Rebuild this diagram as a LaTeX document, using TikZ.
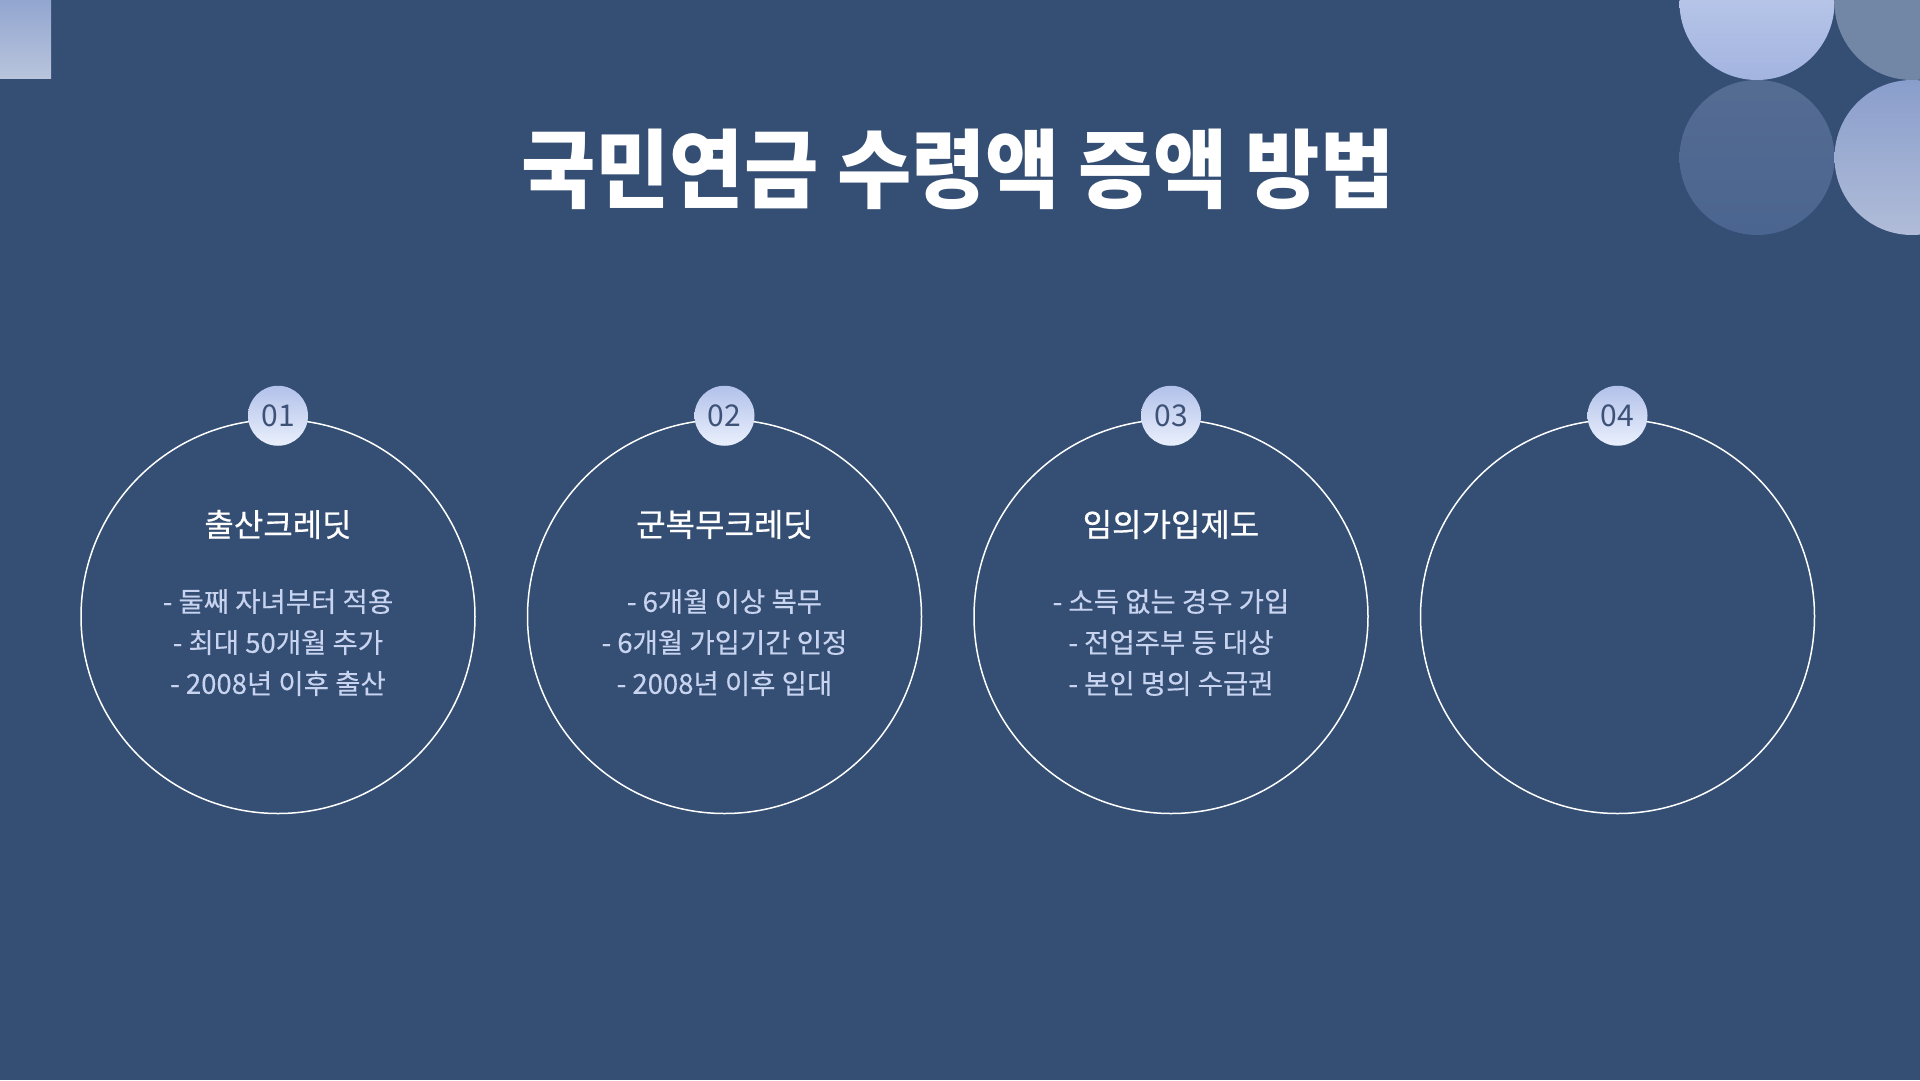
\documentclass[tikz,border=0pt]{standalone}
\usepackage{fontspec}
\usepackage{xcolor}
\usepackage{tikz}
\usetikzlibrary{positioning,shapes.geometric}

\setmainfont{Noto Sans CJK KR}
\newfontfamily\titlefont{Noto Sans CJK KR}[FakeStretch=0.94]
\newfontfamily\headfont{Noto Sans CJK KR}[FakeBold=0.6]
\newfontfamily\itemfont{Noto Sans CJK KR}[FakeBold=0.3]

\definecolor{slide}{HTML}{344E74}
\definecolor{itemgrey}{HTML}{C8D4EF}
\definecolor{numblue}{HTML}{3E5278}
\definecolor{badgetop}{HTML}{B2C1EA}
\definecolor{badgebot}{HTML}{EAF0FC}

\begin{document}
\begin{tikzpicture}[x=1pt,y=-1pt,
  ring/.style={circle,draw=white,line width=1.5pt,minimum size=394pt,inner sep=0pt},
  badge/.style={circle,top color=badgetop,bottom color=badgebot,minimum size=60pt,inner sep=0pt,
    text=numblue,font=\fontsize{30}{32}\selectfont},
  head/.style={text=white,font=\headfont\fontsize{32}{38}\selectfont,inner sep=0pt},
  items/.style={text=itemgrey,align=center,font=\itemfont\fontsize{27.5}{41}\selectfont,inner sep=0pt}]

  \useasboundingbox (0,0) rectangle (1920,1080);
  \clip (0,0) rectangle (1920,1080);
  \fill[slide] (0,0) rectangle (1920,1080);

  % corner decorations
  \shade[top color={rgb,255:red,147;green,166;blue,208},bottom color={rgb,255:red,184;green,196;blue,220}] (0,0) rectangle (51,78);
  \shade[top color={rgb,255:red,198;green,211;blue,238},bottom color={rgb,255:red,163;green,180;blue,224}] (1757,2.5) circle [radius=77.5pt];
  \fill[color={rgb,255:red,114;green,134;blue,166}] (1912,2.5) circle [radius=77.5pt];
  \shade[top color={rgb,255:red,85;green,108;blue,146},bottom color={rgb,255:red,74;green,101;blue,144}] (1757,157.5) circle [radius=77.5pt];
  \shade[top color={rgb,255:red,138;green,158;blue,204},bottom color={rgb,255:red,176;green,188;blue,216}] (1912,157.5) circle [radius=77.5pt];

  \node (title) at (958,169) [text=white,inner sep=0pt] {\titlefont\bfseries\fontsize{86}{96}\selectfont 국민연금 수령액 증액 방법};

  \node (c1) [ring] at (278,616.5) {};
  \node (c2) [ring,right=51pt of c1] {};
  \node (c3) [ring,right=51pt of c2] {};
  \node (c4) [ring,right=51pt of c3] {};

  \node (n1) [badge] at ([yshift=3pt]c1.north) {01};
  \node (n2) [badge] at ([yshift=3pt]c2.north) {02};
  \node (n3) [badge] at ([yshift=3pt]c3.north) {03};
  \node (n4) [badge] at ([yshift=3pt]c4.north) {04};

  \node (h1) [head] at ([yshift=92pt]c1.center) {출산크레딧};
  \node (h2) [head] at ([yshift=92pt]c2.center) {군복무크레딧};
  \node (h3) [head] at ([yshift=92pt]c3.center) {임의가입제도};

  \node (l1) [items] at ([yshift=-26pt]c1.center) {- 둘째 자녀부터 적용\\- 최대 50개월 추가\\- 2008년 이후 출산};
  \node (l2) [items] at ([yshift=-26pt]c2.center) {- 6개월 이상 복무\\- 6개월 가입기간 인정\\- 2008년 이후 입대};
  \node (l3) [items] at ([yshift=-26pt]c3.center) {- 소득 없는 경우 가입\\- 전업주부 등 대상\\- 본인 명의 수급권};

\end{tikzpicture}
\end{document}
